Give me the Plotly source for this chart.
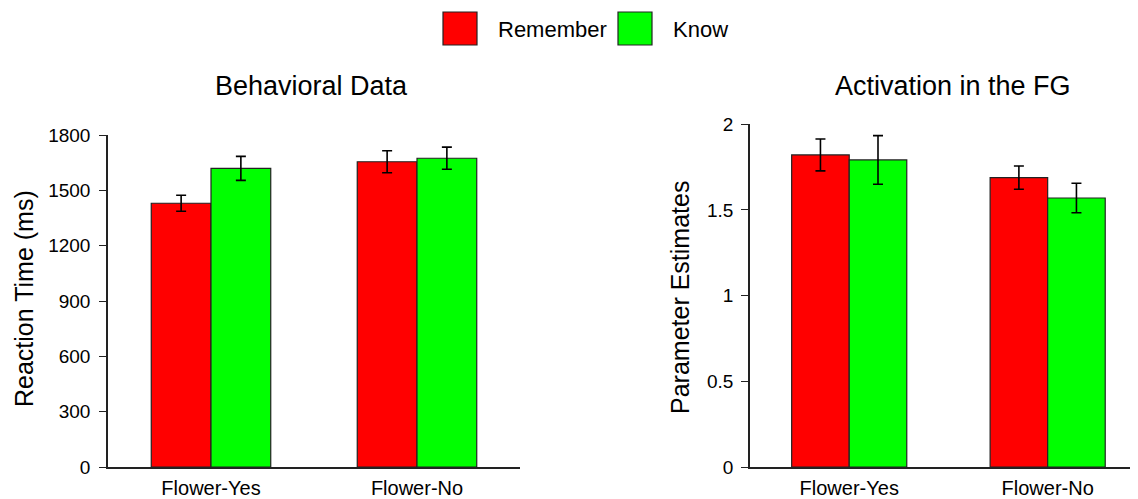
import plotly.graph_objects as go

categories = ["Flower-Yes", "Flower-No"]
series_names = ["Remember", "Know"]
series_colors = ["#ff0000", "#00ff00"]

rt_remember = [1430, 1655]
rt_remember_err = [43, 60]
rt_know = [1619, 1674]
rt_know_err = [65, 60]

pe_remember = [1.821, 1.689]
pe_remember_err = [0.093, 0.068]
pe_know = [1.792, 1.570]
pe_know_err = [0.142, 0.086]

rt_ticks = [0, 300, 600, 900, 1200, 1500, 1800]
pe_ticks = [0, 0.5, 1, 1.5, 2]
pe_ticklabels = ["0", "0.5", "1", "1.5", "2"]

FONT = "Liberation Sans, Arial, sans-serif"
# the page body has an 8px default margin; size the figure to fill the rest of the window
OFF = 8
W, H = 1138 - OFF, 499 - OFF

fig = go.Figure()

def add_bars(xa, ya, vals_list, errs_list):
    for name, color, vals, errs in zip(series_names, series_colors, vals_list, errs_list):
        fig.add_trace(go.Bar(
            x=categories, y=vals, name=name, xaxis=xa, yaxis=ya,
            marker=dict(color=color, line=dict(color="#222222", width=1.2)),
            error_y=dict(type="data", array=errs, visible=True, color="black",
                         thickness=1.6, width=5),
            showlegend=False,
        ))

add_bars("x", "y", [rt_remember, rt_know], [rt_remember_err, rt_know_err])
add_bars("x2", "y2", [pe_remember, pe_know], [pe_remember_err, pe_know_err])

def px(x):
    return (x - OFF) / W

def py(y):
    return 1 - (y - OFF) / H

axis_common = dict(showgrid=False, zeroline=False, showline=True, linecolor="#222222",
                   linewidth=1.5, automargin=False,
                   tickfont=dict(family=FONT, size=19, color="black"))
xaxis_common = dict(ticks="", tickfont=dict(family=FONT, size=20, color="black"),
                    ticklabelstandoff=2, automargin=False,
                    showgrid=False, zeroline=False, showline=True, linecolor="#222222",
                    linewidth=1.5)

fig.update_layout(
    width=W, height=H,
    margin=dict(l=0, r=0, t=0, b=0, autoexpand=False),
    paper_bgcolor="white", plot_bgcolor="white",
    barmode="group", bargap=0.42, bargroupgap=0,
    font=dict(family=FONT, color="black"),
    xaxis=dict(domain=[px(108), px(520)], range=[-0.5, 1.5], anchor="y", **xaxis_common),
    yaxis=dict(domain=[py(467), py(135)], range=[0, 1800], anchor="x",
               tickvals=rt_ticks, ticks="outside", ticklen=7, tickcolor="#222222",
               ticklabelstandoff=5, **axis_common),
    xaxis2=dict(domain=[px(750), px(1133)], range=[-0.5, 1.43], anchor="y2", **xaxis_common),
    yaxis2=dict(domain=[py(467), py(124.3)], range=[0, 2], anchor="x2",
                tickvals=pe_ticks, ticktext=pe_ticklabels, ticks="outside", ticklen=7,
                tickcolor="#222222", ticklabelstandoff=4, **axis_common),
)

def ann(text, x, y, size, angle=0, xanchor="center"):
    return dict(text=text, x=px(x), y=py(y), xref="paper", yref="paper",
                xanchor=xanchor, yanchor="middle", textangle=angle, showarrow=False,
                font=dict(family=FONT, size=size, color="black"))

annotations = [
    ann("Behavioral Data", 311, 86, 27),
    ann("Activation in the FG", 953, 86, 27),
    ann("Reaction Time (ms)", 24, 299, 25, angle=-90),
    ann("Parameter Estimates", 680, 298, 25, angle=-90),
    ann("Remember", 496, 29, 22, xanchor="left"),
    ann("Know", 671, 29, 22, xanchor="left"),
]
fig.update_layout(annotations=annotations)

shapes = [
    dict(type="rect", xref="paper", yref="paper", x0=px(443), x1=px(477), y0=py(45), y1=py(12),
         fillcolor=series_colors[0], line=dict(color="#222222", width=1.2)),
    dict(type="rect", xref="paper", yref="paper", x0=px(618), x1=px(652), y0=py(45), y1=py(12),
         fillcolor=series_colors[1], line=dict(color="#222222", width=1.2)),
]
fig.update_layout(shapes=shapes)

fig.write_html("out.html")
